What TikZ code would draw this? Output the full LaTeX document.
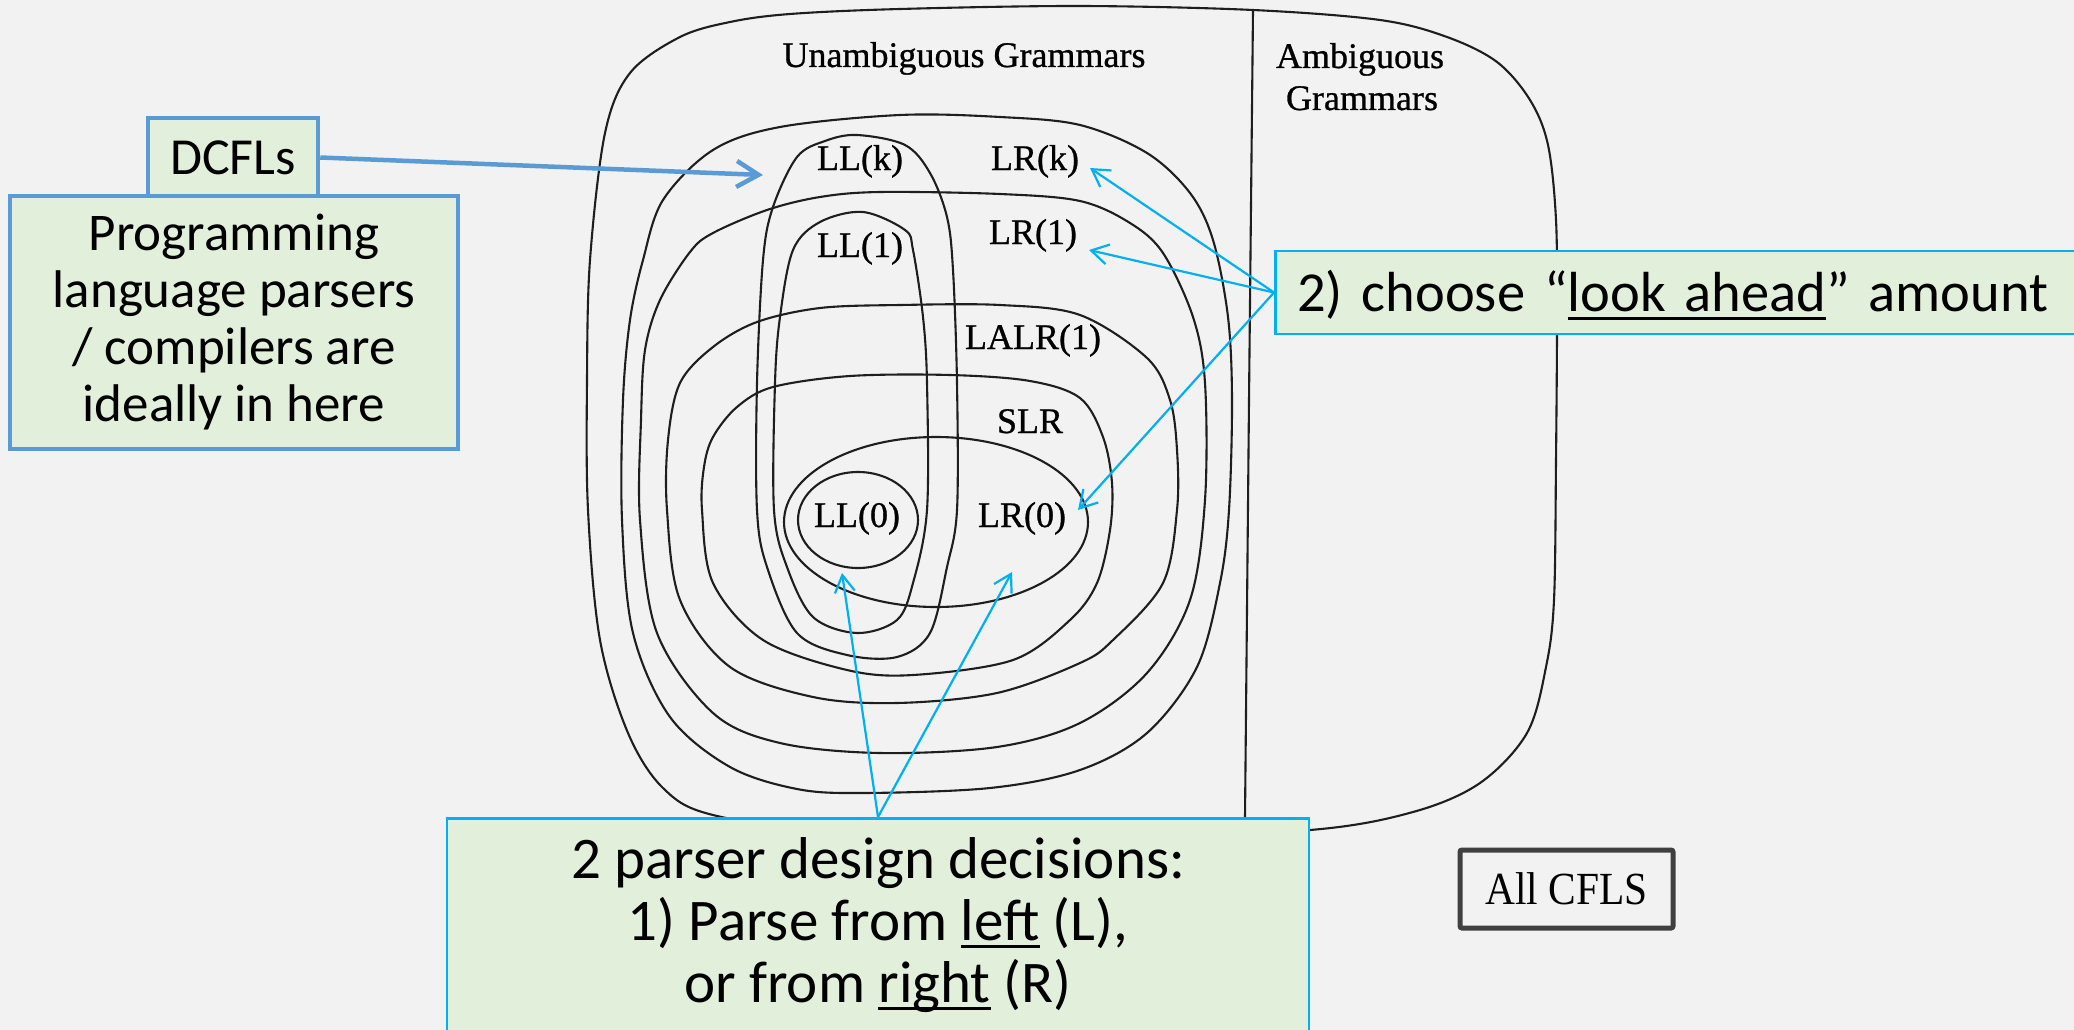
\documentclass[tikz,border=0pt]{standalone}
\usepackage{fontspec}
\setmainfont{Carlito}
\newfontfamily\gramfont{Liberation Serif}[FakeBold=0.8]
\newfontfamily\cflfont{Liberation Serif}[FakeStretch=0.9]
\usetikzlibrary{arrows.meta}
\definecolor{pagebg}{HTML}{F2F2F2}
\definecolor{notefill}{HTML}{E2EFDA}
\definecolor{steelblue}{HTML}{5B9BD5}
\definecolor{skycyan}{HTML}{00B0F0}
\definecolor{darkframe}{HTML}{404040}
\definecolor{inkline}{HTML}{1E1E1E}
% thick underline placed a fixed distance below the baseline
\newcommand\ulword[1]{\setbox0=\hbox{#1}\rlap{\rule[-8pt]{\wd0}{3pt}}\box0\relax}
\tikzset{
  region/.style={draw=inkline, line width=2.1pt},
  gram/.style={font=\gramfont\fontsize{36}{42}\selectfont, anchor=base, inner sep=0pt},
  bluenote/.style={draw=steelblue, line width=4.5pt, fill=notefill, align=center, inner sep=0pt},
  cyannote/.style={draw=skycyan, line width=2.5pt, fill=notefill},
  cyarrow/.style={draw=skycyan, line width=2.2pt, -{Straight Barb[length=17pt,width=20pt]}},
  bluearrow/.style={draw=steelblue, line width=4.5pt, -{Straight Barb[length=22pt,width=26pt]}},
}
\begin{document}
\begin{tikzpicture}[x=1pt,y=-1pt]
\useasboundingbox (0,0) rectangle (2074,1030);
\fill[pagebg] (0,0) rectangle (2074,1030);

% all context-free grammars
\draw[region] plot[smooth cycle, tension=0.55] coordinates {
  (900,9) (1080,6) (1253,10) (1380,20) (1447,37) (1497,62) (1530,100) (1548,145)
  (1556,220) (1557,320) (1556,460) (1554,600) (1546,667) (1527,733) (1480,783)
  (1413,812) (1310,830) (1100,838) (850,834) (713,815) (663,788) (628,733)
  (600,640) (588,510) (587,380) (590,260) (605,133) (630,73) (680,37) (730,22) (790,14)};
% unambiguous / ambiguous split
\draw[region] (1253,10) -- (1249,400) -- (1245,817);

% LR(k)
\draw[region] plot[smooth cycle, tension=0.55] coordinates {
  (900,115) (1000,117) (1080,125) (1147,153) (1190,193) (1213,240) (1228,317)
  (1232,400) (1229,510) (1220,583) (1197,667) (1147,733) (1080,770) (990,788)
  (863,793) (797,789) (730,767) (670,717) (633,633) (622,520) (623,400) (630,320)
  (643,260) (663,200) (713,150) (780,127)};
% LR(1)
\draw[region] plot[smooth cycle, tension=0.55] coordinates {
  (880,192) (1000,194) (1080,201) (1130,223) (1163,253) (1193,317) (1205,383)
  (1205,500) (1190,600) (1147,673) (1080,723) (997,747) (880,753) (780,743)
  (713,713) (657,633) (640,520) (641,420) (645,350) (660,300) (690,252) (713,233)
  (767,210) (820,197)};
% LALR(1)
\draw[region] plot[smooth cycle, tension=0.55] coordinates {
  (820,308) (900,305) (1000,305) (1080,315) (1147,358) (1170,400) (1177,450)
  (1177,510) (1163,583) (1113,640) (1080,663) (997,693) (897,703) (813,697)
  (730,667) (680,600) (667,510) (668,440) (680,383) (713,347) (757,322)};
% SLR
\draw[region] plot[smooth cycle, tension=0.55] coordinates {
  (850,376) (950,375) (1030,381) (1080,398) (1103,437) (1112,483) (1110,530)
  (1097,583) (1070,620) (1013,660) (913,675) (847,670) (763,640) (713,583)
  (702,510) (704,467) (713,437) (737,407) (773,387)};
% LL(k)
\draw[region] plot[smooth cycle, tension=0.55] coordinates {
  (857,135) (905,145) (930,173) (947,217) (953,270) (957,383) (957,510) (947,567)
  (930,633) (897,657) (847,655) (797,633) (767,567) (757,510) (757,383) (763,260)
  (773,207) (797,157) (825,141)};
% LL(1)
\draw[region] plot[smooth cycle, tension=0.55] coordinates {
  (863,212) (905,230) (913,250) (923,317) (927,383) (927,510) (913,583) (897,620)
  (857,633) (813,617) (787,567) (774,510) (775,383) (780,317) (793,250) (820,222)};
% LR(0) and LL(0)
\draw[region] (936,522) ellipse [x radius=152pt, y radius=85pt];
\draw[region] (858,520) ellipse [x radius=60pt, y radius=48pt];

% class labels
\node[gram] (lblUnamb) at (964,67) {Unambiguous Grammars};
\node[gram] (lblAmb) at (1360,68) {Ambiguous};
\node[gram] (lblAmbG) at (1362,110) {Grammars};
\node[gram] (lblLLk) at (860,170) {LL(k)};
\node[gram] (lblLRk) at (1035,170) {LR(k)};
\node[gram] (lblLL1) at (860,257) {LL(1)};
\node[gram] (lblLR1) at (1033,244) {LR(1)};
\node[gram] (lblLALR) at (1033,349) {LALR(1)};
\node[gram] (lblSLR) at (1030,433) {SLR};
\node[gram] (lblLL0) at (857,527) {LL(0)};
\node[gram] (lblLR0) at (1022,527) {LR(0)};

% arrow targets
\coordinate (dcflTip) at (763,175);
\coordinate (tipLRk) at (1090,168);
\coordinate (tipLR1) at (1089,250);
\coordinate (tipLR0) at (1078,510);
\coordinate (tipLL0) at (842,573);
\coordinate (tipLRzero) at (1012,572);

% callout boxes
\node[bluenote, minimum width=170pt, minimum height=79pt,
      font=\fontsize{52}{57}\selectfont] (dcfl) at (233,157.5) {DCFLs};
\node[bluenote, minimum width=448pt, minimum height=253pt,
      font=\fontsize{53}{57}\selectfont] (plang) at (234,322.5)
  {Programming\\language parsers\\/ compilers are\\ideally in here};
\node[cyannote, anchor=west, minimum height=83pt, text height=44pt, text depth=6pt,
      inner xsep=22pt, text width=800pt, font=\fontsize{56.5}{62}\selectfont]
  (look) at (1274,292.5) {2) choose “\ulword{look ahead}” amount};
\node[cyannote, anchor=north, minimum width=862pt, inner ysep=19pt, align=center,
      font=\fontsize{59}{62}\selectfont] (pdesign) at (878,817)
  {2 parser design decisions:\\1) Parse from \ulword{left} (L),\\or from \ulword{right} (R)\rule[-80pt]{0pt}{1pt}};
\node[draw=darkframe, line width=5pt, rounded corners=2pt, minimum width=213pt,
      minimum height=78pt, inner sep=0pt, font=\cflfont\fontsize{46}{50}\selectfont]
  (allcfl) at (1566.5,889) {All CFLS};

% connectors
\draw[bluearrow] (dcfl.east) -- (dcflTip);
\draw[cyarrow] (look.west) -- (tipLRk);
\draw[cyarrow] (look.west) -- (tipLR1);
\draw[cyarrow] (look.west) -- (tipLR0);
\draw[cyarrow] (pdesign.north) -- (tipLL0);
\draw[cyarrow] (pdesign.north) -- (tipLRzero);
\end{tikzpicture}
\end{document}
